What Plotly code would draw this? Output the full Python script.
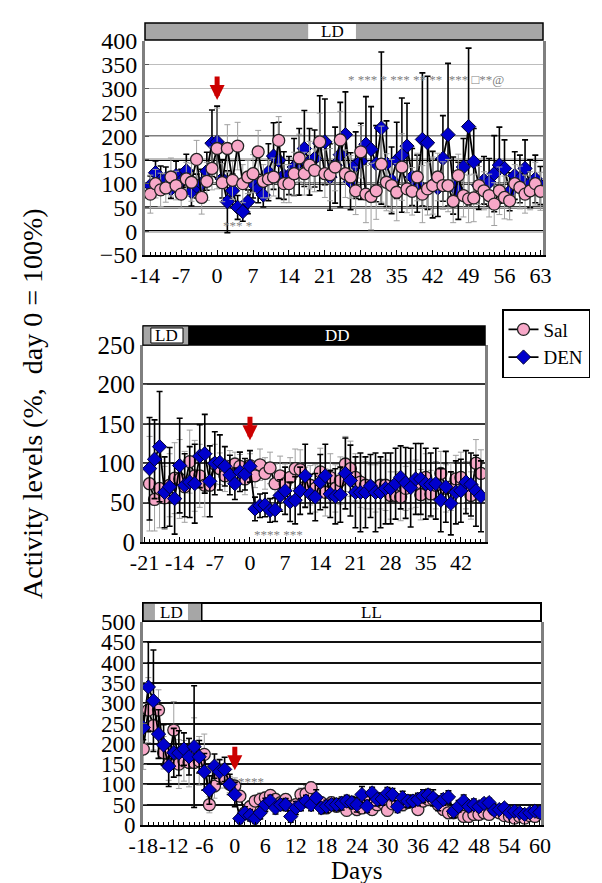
import plotly.graph_objects as go

# ---------------- DATA ----------------
# Panel A (LD throughout)
p1_days = list(range(-13, 64))
p1_sal = [78, 100, 87, 91, 114, 96, 78, 110, 103, 151, 71, 105, 132, 174,
          102, 174, 107, 179, 100, 114, 121, 167, 105, 110,
          114, 191, 100, 100, 121, 154, 121, 139, 128, 188,
          121, 119, 135, 192, 121, 114, 85, 167, 78, 73,
          85, 141, 103, 96, 82, 135, 89, 84, 114, 78,
          89, 96, 114, 96, 96, 63, 117, 75, 68, 70,
          96, 85, 75, 57, 85, 71, 64, 100, 92, 78,
          85, 100, 84]
p1_sal_err = [40, 30, 35, 30, 40, 30, 30, 35, 40, 40,
              35, 40, 45, 85, 40, 50, 40, 50, 40, 35,
              40, 45, 35, 40, 40, 50, 40, 40, 45, 50,
              45, 50, 45, 60, 50, 55, 50, 60, 50, 45,
              50, 55, 60, 70, 60, 80, 60, 55, 60, 70,
              50, 50, 50, 60, 55, 60, 50, 50, 55, 45,
              45, 45, 50, 50, 40, 40, 45, 45, 50, 45,
              40, 40, 45, 40, 40, 45, 40]
p1_den = [96, 123, 107, 110, 89, 117, 105, 127, 83, 95,
          100, 126, 185, 188, 110, 62, 85, 50, 41, 62,
          100, 90, 76, 124, 158, 149, 117, 117, 135, 146,
          174, 146, 153, 185, 188, 114, 139, 161, 203, 105,
          139, 147, 183, 172, 142, 217, 142, 107, 149, 160,
          179, 114, 100, 193, 186, 98, 91, 153, 203, 96,
          85, 135, 220, 146, 96, 107, 103, 121, 139, 132,
          83, 117, 110, 132, 100, 110, 96]
p1_den_err = [20, 25, 30, 25, 20, 30, 25, 35, 30, 25,
              30, 40, 70, 75, 40, 65, 35, 25, 20, 25,
              30, 30, 25, 60, 70, 80, 50, 40, 60, 70,
              80, 70, 60, 100, 90, 70, 80, 110, 90, 60,
              70, 80, 100, 90, 80, 160, 90, 70, 80, 120,
              90, 60, 60, 140, 140, 70, 60, 90, 150, 60,
              60, 60, 165, 70, 50, 50, 50, 80, 80, 60,
              40, 50, 50, 60, 50, 50, 40]
p1_ticks = [-14, -7, 0, 7, 14, 21, 28, 35, 42, 49, 56, 63]
p1_ticklabels = ["-14", "-7", "0", "7", "14", "21", "28", "35", "42",
                 "49", "56", "63"]

# Panel B (LD -> DD)
p2_days = list(range(-20, 47))
p2_sal = [74, 54, 68, 56, 72, 81, 80, 70, 102, 84,
          84, 72, 72, 99, 93, 84, 96, 99, 96, 80,
          97, 84, 98, 87, 94, 74, 84, 74, 82, 93,
          92, 70, 72, 68, 89, 63, 82, 68, 78, 99,
          93, 82, 76, 72, 70, 68, 72, 72, 59, 59,
          57, 68, 72, 74, 60, 82, 61, 72, 87, 68,
          70, 80, 82, 72, 59, 100, 87]
p2_sal_err = [60, 40, 50, 40, 40, 45, 50, 45, 40, 45,
              40, 40, 40, 25, 20, 20, 20, 15, 15, 20,
              15, 15, 20, 20, 20, 25, 25, 25, 25, 25,
              25, 25, 25, 30, 30, 30, 30, 30, 30, 35,
              35, 30, 32, 30, 28, 30, 30, 32, 30, 30,
              30, 28, 30, 30, 32, 30, 30, 30, 28, 30,
              30, 30, 32, 30, 30, 30, 30]
p2_den = [93, 105, 121, 63, 70, 55, 97, 72, 76, 74,
          109, 112, 77, 100, 101, 96, 85, 74, 89, 86,
          96, 42, 46, 47, 40, 41, 59, 65, 51, 53,
          65, 84, 61, 57, 76, 84, 61, 58, 60, 87,
          78, 63, 63, 63, 71, 63, 63, 68, 68, 74,
          82, 75, 69, 80, 80, 74, 73, 74, 53, 70,
          49, 63, 65, 76, 73, 65, 58]
p2_den_err = [65, 50, 70, 45, 50, 45, 60, 40, 45, 50,
              40, 50, 45, 40, 35, 25, 25, 20, 25, 20,
              20, 15, 15, 15, 15, 15, 20, 30, 25, 30,
              30, 40, 25, 30, 35, 40, 30, 35, 35, 45,
              45, 45, 50, 45, 40, 50, 45, 45, 45, 45,
              40, 45, 50, 45, 45, 45, 40, 45, 40, 45,
              40, 40, 40, 40, 40, 45, 45]
p2_ticks = [-21, -14, -7, 0, 7, 14, 21, 28, 35, 42]
p2_ticklabels = ["-21", "-14", "-7", "0", "7", "14", "21", "28", "35", "42"]

# Panel C (LD -> LL)
p3_days = list(range(-18, 61))
p3_sal = [187, 283, 245, 283, 178, 150, 234, 150, 158, 154,
          154, 158, 174, 50, 96, 121, 116, 100, 96,
          71, 30, 45, 59, 63, 67, 73, 63, 55, 63, 46,
          50, 75, 77, 92, 63, 55, 42, 55, 46, 50, 36,
          55, 38, 42, 55, 38, 50, 55, 36, 52, 55,
          50, 55, 59, 38, 59, 63, 63, 50, 38, 30, 30,
          34, 21, 21, 26, 26, 30, 26, 38, 30, 23, 21,
          17, 21, 17, 23, 21, 30]
p3_sal_err = [50, 80, 60, 50, 40, 40, 70, 60, 50, 60,
              110, 60, 50, 20, 30, 30, 25, 20, 20,
              14, 18, 15, 14, 16, 15, 14, 15, 16, 14,
              15, 14, 16, 20, 15, 14, 15, 14, 15, 14,
              15, 14, 16, 15, 14, 15, 14, 15, 14, 15,
              14, 15, 16, 14, 15, 14, 15, 16, 14, 13,
              14, 15, 12, 14, 13, 14, 15, 12, 11, 12,
              10, 11, 10, 9, 10, 11, 10, 9, 10]
p3_den = [240, 340, 306, 224, 197, 145, 178, 177, 187, 168,
          193, 168, 131, 86, 145, 131, 137, 100, 75,
          16, 30, 24, 16, 30, 50, 59, 42, 50, 50,
          21, 42, 50, 59, 50, 67, 42, 46, 50, 50, 53,
          59, 55, 50, 75, 46, 79, 63, 64, 78, 75, 45,
          67, 59, 59, 63, 71, 74, 67, 53, 63, 69, 34,
          46, 59, 46, 50, 45, 53, 55, 36, 38, 42, 30,
          34, 30, 26, 30, 34, 31]
p3_den_err = [30, 110, 125, 60, 50, 50, 60, 55, 40, 45,
              150, 40, 45, 35, 30, 30, 30, 25, 30,
              12, 15, 14, 12, 15, 16, 14, 15, 13, 15,
              14, 16, 15, 14, 15, 20, 14, 15, 13, 15,
              16, 14, 15, 18, 20, 15, 14, 16, 15, 14,
              15, 14, 16, 15, 14, 15, 16, 14, 20, 18,
              14, 15, 16, 14, 15, 13, 14, 12, 10, 11,
              10, 9, 10, 11, 10, 9, 10, 8, 10]
p3_ticks = [-18, -12, -6, 0, 6, 12, 18, 24, 30, 36, 42, 48, 54, 60]
p3_ticklabels = ["-18", "-12", "-6", "0", "6", "12", "18", "24", "30",
                 "36", "42", "48", "54", "60"]

sig1_text = "* *** * *** ** **  *** \u25a1**@"
sig1b_text = "*** *"
sig2_text = "**** ***"
sig3_text = "****"

p1_strong_grid = [0, 50, 100, 150]
p2_ld_end = -12.2
p3_ld_end = -6.5

# ---------------- STYLE ----------------
FONT = "Liberation Serif"
SAL_FILL = "#F7A8C8"
DEN_FILL = "#0000CC"
W, H = 602, 883


def py(p):
    return 1 - p / H


def px(p):
    return p / W


fig = go.Figure()


def add_pair(days, sal, sal_err, den, den_err, xa, ya, legend, sal_top):
    sal_tr = go.Scatter(
        x=days, y=sal, name="Sal", mode="lines+markers",
        line=dict(color="black", width=1.8),
        marker=dict(symbol="circle", size=12, color=SAL_FILL,
                    line=dict(color="#222222", width=1.3)),
        error_y=dict(type="data", array=sal_err, color="#a0a0a0",
                     thickness=1, width=3),
        xaxis=xa, yaxis=ya, showlegend=legend, legendrank=1)
    den_tr = go.Scatter(
        x=days, y=den, name="DEN", mode="lines+markers",
        line=dict(color="black", width=1.8),
        marker=dict(symbol="diamond", size=11, color=DEN_FILL,
                    line=dict(color="#000033", width=1)),
        error_y=dict(type="data", array=den_err, color="black",
                     thickness=1.6, width=3),
        xaxis=xa, yaxis=ya, showlegend=legend, legendrank=2)
    if sal_top:
        fig.add_trace(den_tr)
        fig.add_trace(sal_tr)
    else:
        fig.add_trace(sal_tr)
        fig.add_trace(den_tr)


add_pair(p1_days, p1_sal, p1_sal_err, p1_den, p1_den_err, "x", "y", True, True)
add_pair(p2_days, p2_sal, p2_sal_err, p2_den, p2_den_err, "x2", "y2", False, False)
add_pair(p3_days, p3_sal, p3_sal_err, p3_den, p3_den_err, "x3", "y3", False, False)

# domains (pixel boxes of the plot areas)
d1x = [px(137), px(535)]
d1y = [py(247), py(33)]
d2x = [px(135), px(477)]
d2y = [py(534), py(337)]
d3x = [px(135), px(533)]
d3y = [py(817), py(614)]


def xax(domain, rng, tv, tt, anchor, fsize):
    return dict(domain=domain, range=rng, anchor=anchor, tickmode="array",
                tickvals=tv, ticktext=tt, tickangle=0,
                showline=True, linecolor="black",
                linewidth=2, ticks="inside", ticklen=5, tickcolor="black",
                minor=dict(ticks="inside", ticklen=3, tickmode="linear",
                           dtick=1, tick0=0, tickcolor="black",
                           showgrid=False),
                showgrid=False, zeroline=False, automargin=False,
                tickfont=dict(family=FONT, size=fsize, color="black"))


def yax(domain, rng, anchor, gridcolor, gridwidth, fsize):
    return dict(domain=domain, range=rng, anchor=anchor, tickmode="linear",
                tick0=0, dtick=50, showline=True, linecolor="#7f7f7f",
                linewidth=3, mirror=True, ticks="inside", ticklen=4,
                tickcolor="#555555", showgrid=True, gridcolor=gridcolor,
                gridwidth=gridwidth, zeroline=False, automargin=False,
                tickfont=dict(family=FONT, size=fsize, color="black"))


fig.update_layout(
    width=W, height=H, margin=dict(l=0, r=0, t=0, b=0),
    paper_bgcolor="white", plot_bgcolor="white",
    xaxis=xax(d1x, [-14.05, 63.5], p1_ticks, p1_ticklabels, "y", 22),
    yaxis=yax(d1y, [-50, 400], "x", "#bdbdbd", 1, 24),
    xaxis2=xax(d2x, [-21.3, 46.8], p2_ticks, p2_ticklabels, "y2", 22),
    yaxis2=yax(d2y, [0, 250], "x2", "#333333", 1.5, 25),
    xaxis3=xax(d3x, [-18.05, 60.2], p3_ticks, p3_ticklabels, "y3", 22),
    yaxis3=yax(d3y, [0, 500], "x3", "#111111", 1.5, 23),
    legend=dict(x=px(494), y=py(301), xanchor="left", yanchor="top",
                bgcolor="white", bordercolor="black", borderwidth=1.5,
                font=dict(family=FONT, size=19, color="black"),
                tracegroupgap=0, itemwidth=30),
    showlegend=True,
)

shapes = []
# strong gridlines panel 1
for g in p1_strong_grid:
    shapes.append(dict(type="line", xref="x domain", yref="y", x0=0, x1=1,
                       y0=g, y1=g, line=dict(color="black", width=2.2),
                       layer="below"))
shapes.append(dict(type="line", xref="x domain", yref="y", x0=0, x1=1,
                   y0=200, y1=200, line=dict(color="#555555", width=1.5),
                   layer="below"))

# header panel 1: LD (grey)
h1 = [py(32), py(15)]
shapes.append(dict(type="rect", xref="x domain", yref="paper", x0=0, x1=1,
                   y0=h1[0], y1=h1[1], fillcolor="#a6a6a6",
                   line=dict(color="black", width=1.5)))
shapes.append(dict(type="rect", xref="x domain", yref="paper", x0=0.41,
                   x1=0.53, y0=py(31), y1=py(16), fillcolor="white",
                   line=dict(width=0)))

# header panel 2: LD then DD (black)
h2 = [py(337), py(318)]
shapes.append(dict(type="rect", xref="x2 domain", yref="paper", x0=0, x1=1,
                   y0=h2[0], y1=h2[1], fillcolor="black",
                   line=dict(color="black", width=1.5)))
shapes.append(dict(type="rect", xref="x2", yref="paper", x0=-21.3,
                   x1=p2_ld_end, y0=h2[0], y1=h2[1], fillcolor="#a6a6a6",
                   line=dict(color="black", width=1)))
shapes.append(dict(type="rect", xref="x2 domain", yref="paper", x0=0.023,
                   x1=0.117, y0=py(335), y1=py(320), fillcolor="white",
                   line=dict(color="black", width=1)))

# header panel 3: LD then LL (white)
h3 = [py(613), py(595)]
shapes.append(dict(type="rect", xref="x3 domain", yref="paper", x0=0, x1=1,
                   y0=h3[0], y1=h3[1], fillcolor="white",
                   line=dict(color="black", width=2)))
shapes.append(dict(type="rect", xref="x3", yref="paper", x0=-18.05,
                   x1=p3_ld_end, y0=h3[0], y1=h3[1], fillcolor="#a6a6a6",
                   line=dict(color="black", width=1.5)))
shapes.append(dict(type="rect", xref="x3 domain", yref="paper", x0=0.030,
                   x1=0.113, y0=py(612), y1=py(596), fillcolor="white",
                   line=dict(width=0)))
fig.update_layout(shapes=shapes)

ann = []
hf = dict(family=FONT, size=17, color="black")
C = dict(showarrow=False, xanchor="center", yanchor="middle")
ann.append(dict(xref="x domain", yref="paper", x=0.47, y=(h1[0] + h1[1]) / 2,
                text="LD", font=hf, **C))
ann.append(dict(xref="x2 domain", yref="paper", x=0.07, y=(h2[0] + h2[1]) / 2,
                text="LD", font=hf, **C))
ann.append(dict(xref="x2 domain", yref="paper", x=0.57, y=(h2[0] + h2[1]) / 2,
                text="DD", font=dict(family=FONT, size=17, color="white"), **C))
ann.append(dict(xref="x3 domain", yref="paper", x=0.0715, y=(h3[0] + h3[1]) / 2,
                text="LD", font=hf, **C))
ann.append(dict(xref="x3 domain", yref="paper", x=0.573, y=(h3[0] + h3[1]) / 2,
                text="LL", font=hf, **C))

# significance marks
sf = dict(family=FONT, size=13, color="#808080")
ann.append(dict(xref="x", yref="y", x=40.7, y=320, text=sig1_text, font=sf, **C))
ann.append(dict(xref="x", yref="y", x=3.9, y=11, text=sig1b_text, font=sf, **C))
ann.append(dict(xref="x2", yref="y2", x=5.6, y=9, text=sig2_text, font=sf, **C))
ann.append(dict(xref="x3", yref="y3", x=3.1, y=108, text=sig3_text, font=sf, **C))

# red arrows at day 0
for xa, ya, tip in (("x", "y", 276), ("x2", "y2", 129), ("x3", "y3", 135)):
    ann.append(dict(xref=xa, yref=ya, x=0, y=tip, ax=0, ay=-25,
                    axref="pixel", ayref="pixel", showarrow=True,
                    arrowhead=2, arrowsize=0.6, arrowwidth=5,
                    arrowcolor="#cc0000", text=""))

# axis titles
ann.append(dict(xref="paper", yref="paper", x=px(24), y=py(396),
                text="Activity levels (%,  day 0 = 100%)", textangle=-90,
                font=dict(family=FONT, size=28, color="black"), **C))
ann.append(dict(xref="paper", yref="paper", x=px(348), y=py(862),
                text="Days", font=dict(family=FONT, size=25, color="black"),
                **C))
fig.update_layout(annotations=ann)

fig.write_html("out.html")
